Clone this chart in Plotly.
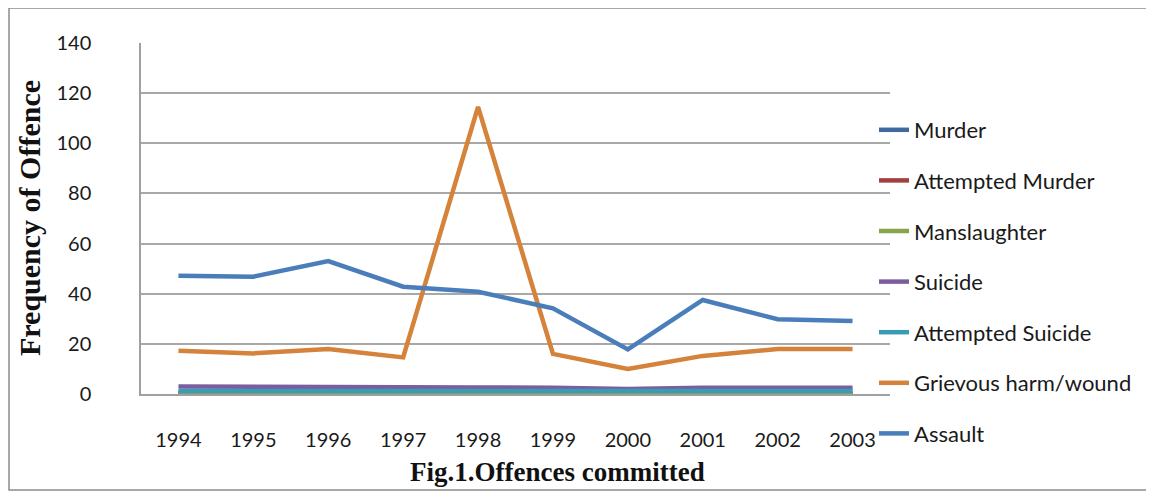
import plotly.graph_objects as go

years = ["1994", "1995", "1996", "1997", "1998", "1999", "2000", "2001", "2002", "2003"]
murder = [0.4, 0.4, 0.3, 0.4, 0.3, 0.3, 0.3, 0.3, 0.3, 0.3]
attempted_murder = [0.3, 0.2, 0.3, 0.3, 0.2, 0.2, 0.2, 0.2, 0.2, 0.2]
manslaughter = [0.2, 0.2, 0.2, 0.2, 0.2, 0.2, 0.2, 0.2, 0.2, 0.2]
suicide = [3.0, 3.0, 2.6, 3.0, 2.6, 2.5, 2.0, 2.5, 2.5, 2.5]
attempted_suicide = [1.2, 1.2, 1.2, 1.2, 1.2, 1.2, 1.2, 1.2, 1.2, 1.2]
grievous = [17.3, 16.2, 17.9, 14.6, 114.5, 16.0, 10.0, 15.2, 17.9, 17.9]
assault = [47.2, 46.8, 53.0, 42.8, 40.8, 34.2, 17.8, 37.5, 29.8, 29.1]

series = [
    ("Murder", murder, "#3E6A9F"),
    ("Attempted Murder", attempted_murder, "#A2403D"),
    ("Manslaughter", manslaughter, "#87A64B"),
    ("Suicide", suicide, "#7B5EA0"),
    ("Attempted Suicide", attempted_suicide, "#3A9CB4"),
    ("Grievous harm/wound", grievous, "#D5823A"),
    ("Assault", assault, "#4A7EBB"),
]

fig = go.Figure()
for i, (name, vals, col) in enumerate(series):
    fig.add_trace(go.Scatter(
        x=years, y=vals, name=name, mode="lines",
        line=dict(color=col, width=4.5),
        legendgroup=str(i),
    ))

# page body has an 8px offset; work in figure coordinates
OFF = 8
W, H = 1146, 483
L, R, T, B = 141 - OFF, 890 - OFF, 43 - OFF, 394 - OFF
pw, ph = R - L, B - T

def px(xs):
    return (xs - OFF - L) / pw

def py(ys):
    return (B - (ys - OFF)) / ph

serif = "Liberation Serif, Times New Roman, serif"

fig.update_layout(
    width=W, height=H,
    margin=dict(l=L, r=W - R, t=T, b=H - B),
    paper_bgcolor="white", plot_bgcolor="white",
    font=dict(family="Lato, Open Sans, sans-serif", color="#1a1a1a", size=20),
    xaxis=dict(
        type="category", range=[-0.5, 9.5], showgrid=False,
        showline=True, linecolor="#A0A0A0", linewidth=1.5,
        ticks="", ticklabelstandoff=27, tickfont=dict(size=20, color="#1a1a1a"),
    ),
    yaxis=dict(
        range=[0, 140], dtick=20, showgrid=True, gridcolor="#A8A8A8", gridwidth=1.5,
        showline=True, linecolor="#A0A0A0", linewidth=1.5, zeroline=False,
        ticks="", ticklabelstandoff=44, tickfont=dict(size=20, color="#1a1a1a"),
    ),
    showlegend=True,
    legend=dict(
        x=px(874), xanchor="left", y=py(109), yanchor="top",
        traceorder="grouped", tracegroupgap=19, bgcolor="rgba(0,0,0,0)",
        font=dict(size=22, color="#1a1a1a"), itemwidth=30,
    ),
    annotations=[
        dict(text="<b>Fig.1.Offences committed</b>", xref="paper", yref="paper",
             x=px(557), y=py(472), xanchor="center", yanchor="middle", showarrow=False,
             font=dict(family=serif, size=27, color="#111111")),
        dict(text="<b>Frequency of Offence</b>", xref="paper", yref="paper",
             x=px(29), y=py(218), xanchor="center", yanchor="middle", showarrow=False,
             textangle=-90, font=dict(family=serif, size=30, color="#111111")),
    ],
    shapes=[dict(
        type="rect", xref="paper", yref="paper",
        x0=px(9), x1=px(1150), y0=py(490), y1=py(8),
        line=dict(color="#8C8C8C", width=1.5), fillcolor="rgba(0,0,0,0)", layer="below",
    )],
)

fig.write_html("out.html")
